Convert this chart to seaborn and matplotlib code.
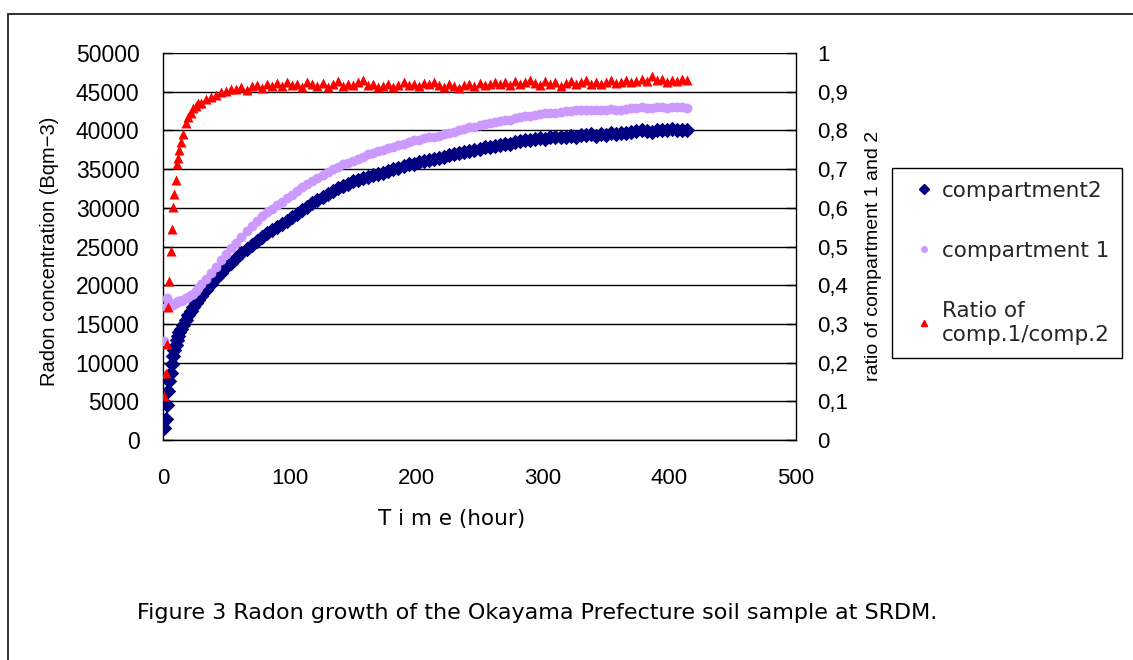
import matplotlib
matplotlib.use('Agg')
import numpy as np
import pandas as pd
import matplotlib.pyplot as plt
import seaborn as sns
from matplotlib.lines import Line2D
from matplotlib.patches import Rectangle

# ---------------- data ----------------
hours = [1, 2, 3, 4, 5, 6, 7, 8, 9, 10, 11, 12, 13, 14, 16, 18, 20, 22, 24, 26, 28, 30,
         34, 38, 42, 46, 50, 54, 58, 62, 66, 70, 74, 78, 82, 86, 90, 94, 98,
         102, 106, 110, 114, 118, 122, 126, 130, 134, 138, 142, 146, 150, 154, 158, 162,
         166, 170, 174, 178, 182, 186, 190, 194, 198,
         202, 206, 210, 214, 218, 222, 226, 230, 234, 238, 242, 246, 250, 254, 258, 262,
         266, 270, 274, 278, 282, 286, 290, 294, 298,
         302, 306, 310, 314, 318, 322, 326, 330, 334, 338, 342, 346, 350, 354, 358, 362,
         366, 370, 374, 378, 382, 386, 390, 394, 398,
         402, 406, 410, 414]

compartment2 = [1500, 2700, 4500, 6300, 7600, 8600, 9800, 10800, 11600, 12300, 12900, 13400,
                13900, 14300, 14900, 15500, 16100, 16700, 17200, 17700, 18100, 18600,
                19400, 20200, 20900, 21600, 22300, 22900, 23500, 24100, 24700, 25200, 25700,
                26200, 26700, 27100, 27500, 27900, 28300,
                28800, 29200, 29700, 30100, 30600, 31000, 31400, 31800, 32200, 32500, 32800,
                33100, 33400, 33600, 33800, 34000, 34200, 34400, 34500, 34800, 35000, 35200,
                35400, 35600, 35700,
                35900, 36000, 36200, 36300, 36400, 36600, 36800, 36900, 37100, 37200, 37400,
                37500, 37600, 37800, 37900, 38000, 38100, 38300, 38300, 38500, 38600, 38700,
                38800, 38900, 39000,
                38900, 39100, 39100, 39200, 39200, 39300, 39200, 39400, 39400, 39500, 39300,
                39500, 39400, 39600, 39500, 39700, 39700, 39800, 39900, 40100, 39900, 39800,
                40000, 40100, 40000,
                40200, 40100, 40000, 40100]

compartment1 = [12800, 17200, 18400, 18000, 17600, 17400, 17400, 17500, 17600, 17700, 17800,
                17900, 18000, 18000, 18100, 18300, 18500, 18700, 18900, 19300, 19700, 20100,
                20800, 21600, 22400, 23200, 24000, 24800, 25500, 26200, 27000, 27700, 28300,
                28900, 29400, 29900, 30300, 30800, 31300,
                31700, 32200, 32700, 33100, 33500, 33900, 34200, 34600, 35000, 35300, 35600,
                35800, 36000, 36300, 36600, 36900, 37100, 37300, 37500, 37700, 37900, 38100,
                38300, 38500, 38700,
                38800, 39000, 39100, 39200, 39300, 39500, 39700, 39800, 40000, 40200, 40400,
                40500, 40700, 40800, 40900, 41100, 41200, 41300, 41400, 41600, 41700, 41800,
                41900, 42000, 42100,
                42200, 42300, 42300, 42400, 42500, 42500, 42600, 42600, 42700, 42700, 42600,
                42700, 42700, 42800, 42700, 42700, 42800, 42900, 42900, 43000, 42900, 42900,
                43000, 43000, 42900,
                43000, 43000, 43000, 42900]

ratio = [0.114, 0.172, 0.247, 0.344, 0.410, 0.488, 0.544, 0.603, 0.636, 0.672, 0.713, 0.728,
         0.749, 0.771, 0.790, 0.818, 0.835, 0.845, 0.858, 0.862, 0.870, 0.872,
         0.880, 0.886, 0.892, 0.898, 0.902, 0.906, 0.908, 0.912, 0.905, 0.915, 0.918, 0.910,
         0.920, 0.914, 0.922, 0.916, 0.925,
         0.918, 0.921, 0.913, 0.924, 0.919, 0.916, 0.922, 0.912, 0.920, 0.927, 0.915, 0.921,
         0.918, 0.925, 0.930, 0.917, 0.920, 0.913, 0.916, 0.921, 0.912, 0.918, 0.925, 0.917,
         0.920,
         0.914, 0.922, 0.919, 0.925, 0.918, 0.913, 0.920, 0.916, 0.910, 0.917, 0.921, 0.916,
         0.923, 0.918, 0.920, 0.926, 0.919, 0.924, 0.917, 0.928, 0.921, 0.925, 0.930, 0.922,
         0.918,
         0.927, 0.921, 0.925, 0.915, 0.923, 0.928, 0.920, 0.924, 0.929, 0.921, 0.926, 0.919,
         0.924, 0.930, 0.922, 0.925, 0.931, 0.924, 0.928, 0.934, 0.927, 0.941, 0.929, 0.933,
         0.926,
         0.931, 0.928, 0.932, 0.929]

x_ticks = [0, 100, 200, 300, 400, 500]
left_ticks = [0, 5000, 10000, 15000, 20000, 25000, 30000, 35000, 40000, 45000, 50000]
right_ticks = [0, 0.1, 0.2, 0.3, 0.4, 0.5, 0.6, 0.7, 0.8, 0.9, 1.0]
right_tick_labels = ['0', '0,1', '0,2', '0,3', '0,4', '0,5', '0,6', '0,7', '0,8', '0,9', '1']

series_names = ['compartment2', 'compartment 1', 'Ratio of\ncomp.1/comp.2']
left_label = 'Radon concentration (Bqm\u22123)'
right_label = 'ratio of compartment 1 and 2'
x_label = 'T i m e (hour)'
caption = 'Figure 3 Radon growth of the Okayama Prefecture soil sample at SRDM.'

# ---------------- styling ----------------
sns.set_theme(style='white')
plt.rcParams['font.family'] = ['Liberation Sans', 'DejaVu Sans']

NAVY = '#000080'
LILAC = '#CC99FF'
RED = '#FF0000'

W, H = 1133, 660
fig = plt.figure(figsize=(W / 100, H / 100), dpi=100)
fig.patch.set_facecolor('white')

# outer frame (top & left visible, rest clipped by figure edge)
fig.add_artist(Rectangle((8 / W, -0.2), 1.3, 1.2 - 14 / H, transform=fig.transFigure,
                         fill=False, edgecolor='#303030', linewidth=1.4, clip_on=False))

ax = fig.add_axes([163 / W, 1 - 440 / H, (796 - 163) / W, (440 - 53) / H])
df = pd.DataFrame({'hours': hours, 'compartment2': compartment2,
                   'compartment1': compartment1, 'ratio': ratio})

sns.scatterplot(data=df, x='hours', y='compartment2', marker='D', color=NAVY, s=62,
                linewidth=0, ax=ax, zorder=3)
sns.scatterplot(data=df, x='hours', y='compartment1', marker='o', color=LILAC, s=50,
                linewidth=0, ax=ax, zorder=4)
ax2 = ax.twinx()
sns.scatterplot(data=df, x='hours', y='ratio', marker='^', color=RED, s=52,
                linewidth=0, ax=ax2, zorder=5)

ax.set_xlim(0, 500)
ax.set_ylim(0, 50000)
ax2.set_ylim(0, 1)
ax.set_xticks(x_ticks)
ax.set_xticklabels([str(v) for v in x_ticks])
ax.set_yticks(left_ticks)
ax.set_yticklabels([str(v) for v in left_ticks])
ax2.set_yticks(right_ticks)
ax2.set_yticklabels(right_tick_labels)

ax.yaxis.grid(True, color='black', linewidth=1.0)
ax.xaxis.grid(False)
ax.set_axisbelow(True)

ax.spines['top'].set_visible(False)
ax.spines['right'].set_visible(False)
for s in ['left', 'bottom']:
    ax.spines[s].set_color('black')
    ax.spines[s].set_linewidth(1.0)
for s in ['top', 'left', 'bottom']:
    ax2.spines[s].set_visible(False)
ax2.spines['right'].set_color('black')
ax2.spines['right'].set_linewidth(1.0)

ax.tick_params(axis='y', direction='in', length=7, width=1, color='black',
               labelsize=16.5, pad=17, labelcolor='black')
ax.tick_params(axis='x', direction='in', length=7, width=1, color='black',
               labelsize=16, pad=20, labelcolor='black')
ax2.tick_params(axis='y', direction='in', length=7, width=1, color='black',
                labelsize=16, pad=15, labelcolor='black')

ax.set_ylabel(left_label, fontsize=14.5, color='black', rotation=90, ha='center', va='center')
ax.yaxis.set_label_coords((50 - 163) / 633, (440 - 251) / 387)
ax2.set_ylabel(right_label, fontsize=14, color='black', rotation=90, ha='center', va='center')
ax2.yaxis.set_label_coords((873 - 163) / 633, (440 - 256) / 387)
ax.set_xlabel(x_label, fontsize=15.5, color='black', va='center', ha='center',
              family=['DejaVu Sans'])
ax.xaxis.set_label_coords((452 - 163) / 633, (440 - 519) / 387)

fig.text(137 / W, 1 - 613 / H, caption, ha='left', va='center', fontsize=16,
         color='black', family=['DejaVu Sans'])

handles = [Line2D([], [], marker='D', color=NAVY, linestyle='None', markersize=5.5),
           Line2D([], [], marker='o', color=LILAC, linestyle='None', markersize=4),
           Line2D([], [], marker='^', color=RED, linestyle='None', markersize=5)]
leg = fig.legend(handles, series_names, loc='upper left',
                 bbox_to_anchor=(892 / W, 1 - 168 / H), bbox_transform=fig.transFigure,
                 frameon=True, fancybox=False, edgecolor='black', framealpha=1,
                 prop={'family': 'DejaVu Sans', 'size': 15.5}, borderpad=0.6,
                 labelspacing=1.85, handlelength=1.8, handletextpad=-0.1,
                 borderaxespad=0)
leg.get_frame().set_linewidth(1.0)
for t in leg.get_texts():
    t.set_linespacing(1.3)

fig.savefig('out.png', dpi=100, facecolor='white')
